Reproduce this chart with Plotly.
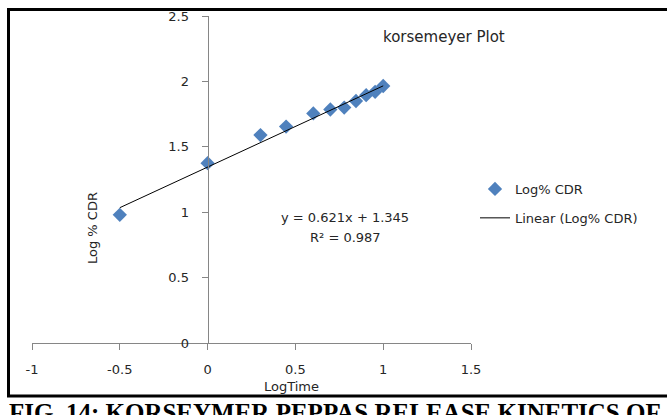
import plotly.graph_objects as go
import numpy as np

# ---- data ----
log_time = [-0.5, 0.0, 0.301, 0.447, 0.602, 0.699, 0.778, 0.845, 0.903, 0.954, 1.0]
log_cdr = [0.98, 1.375, 1.59, 1.655, 1.755, 1.785, 1.80, 1.85, 1.895, 1.92, 1.965]
trend_slope = 0.621
trend_intercept = 1.345
x_tickvals = [-1, -0.5, 0, 0.5, 1, 1.5]
x_ticktext = ["-1", "-0.5", "0", "0.5", "1", "1.5"]
y_tickvals = [0, 0.5, 1, 1.5, 2, 2.5]
y_ticktext = ["0", "0.5", "1", "1.5", "2", "2.5"]

W, H = 667, 415
ML, MR, MT, MB = 32, 196, 16, 72
PW, PH = W - ML - MR, H - MT - MB


def px(x):
    return (x - ML) / PW


def py(y):
    return (H - MB - y) / PH


FONT = "DejaVu Sans"
TXT = "#262626"
AX = "#868686"
BLUE = "#4F81BD"

trend_x = np.array([min(log_time), max(log_time)])
trend_y = trend_slope * trend_x + trend_intercept

fig = go.Figure()
fig.add_trace(go.Scatter(
    x=log_time, y=log_cdr, mode="markers", name="Log% CDR",
    marker=dict(symbol="diamond", size=11, color=BLUE),
    legendgroup="a", cliponaxis=False,
))
fig.add_trace(go.Scatter(
    x=trend_x, y=trend_y, mode="lines", name="Linear (Log% CDR)",
    line=dict(color="black", width=1), legendgroup="b",
))

fig.update_layout(
    width=W, height=H,
    margin=dict(l=ML, r=MR, t=MT, b=MB, autoexpand=False),
    paper_bgcolor="white", plot_bgcolor="white",
    font=dict(family=FONT, size=13, color=TXT),
    showlegend=True,
    legend=dict(x=px(475), y=py(174), xanchor="left", yanchor="top",
                traceorder="grouped", tracegroupgap=9,
                font=dict(family=FONT, size=13, color=TXT),
                bgcolor="rgba(0,0,0,0)"),
    xaxis=dict(range=[-1, 1.5], tickvals=x_tickvals, ticktext=x_ticktext,
               showgrid=False, zeroline=False, showline=True,
               linecolor=AX, linewidth=1, ticks="outside", ticklen=6,
               tickcolor=AX, ticklabelstandoff=8,
               tickfont=dict(family=FONT, size=13, color=TXT)),
    yaxis=dict(range=[0, 2.5], tickvals=y_tickvals, ticktext=y_ticktext,
               anchor="free", position=(0 - (-1)) / (1.5 - (-1)),
               showgrid=False, zeroline=False, showline=True,
               linecolor=AX, linewidth=1, ticks="outside", ticklen=6,
               tickcolor=AX, ticklabelstandoff=10,
               tickfont=dict(family=FONT, size=13, color=TXT)),
)

ann = [
    dict(text="korsemeyer Plot", x=px(444), y=py(37), font=dict(size=15)),
    dict(text="y = 0.621x + 1.345", x=px(345), y=py(217)),
    dict(text="R² = 0.987", x=px(345), y=py(237)),
    dict(text="LogTime", x=px(291), y=py(386)),
    dict(text="Log % CDR", x=px(92), y=py(228), textangle=-90),
]
for a in ann:
    fig.add_annotation(xref="paper", yref="paper", showarrow=False,
                       xanchor="center", yanchor="middle", **a)

fig.add_annotation(
    text="FIG. 14: KORSEYMER PEPPAS RELEASE KINETICS OF",
    xref="paper", yref="paper", x=px(7), y=py(397),
    xanchor="left", yanchor="top", showarrow=False,
    font=dict(family="Liberation Serif", size=25, color="black", weight="bold"),
)

fig.add_shape(type="rect", xref="paper", yref="paper",
              x0=px(8.5), x1=px(700), y0=py(396), y1=py(9.5),
              line=dict(color="black", width=3), fillcolor="rgba(0,0,0,0)",
              layer="above")

fig.write_html("out.html")
